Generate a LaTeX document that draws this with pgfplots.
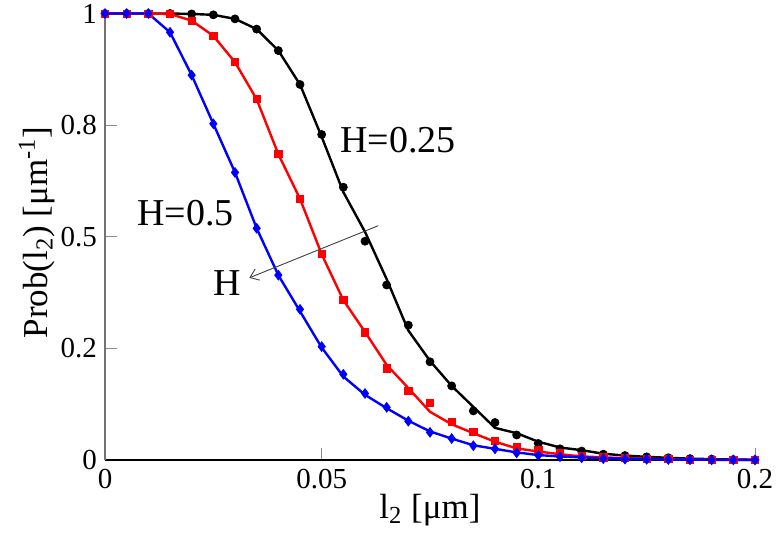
\documentclass[border=0pt]{standalone}
\usepackage{fontspec}
\setmainfont{Liberation Serif}
\usepackage{pgfplots}
\usepackage{pgfplotstable}
\pgfplotsset{compat=1.18}
\usetikzlibrary{arrows.meta}

\pgfplotstableread{
x bm bl rm rl km kl
0 1 1 1 1 1 1
0.005 1 1 1 1 1 1
0.010 1 1 1 1 1 1
0.015 0.958 0.958 0.999 0.999 1 1
0.020 0.862 0.862 0.984 0.984 0.999 0.999
0.025 0.753 0.753 0.950 0.950 0.997 0.997
0.030 0.644 0.644 0.891 0.891 0.988 0.988
0.035 0.519 0.519 0.808 0.808 0.965 0.965
0.040 0.414 0.414 0.685 0.685 0.917 0.917
0.045 0.3375 0.333 0.585 0.585 0.841 0.841
0.050 0.254 0.252 0.461 0.461 0.729 0.724
0.055 0.192 0.187 0.358 0.358 0.611 0.600
0.060 0.149 0.146 0.286 0.287 0.490 0.511
0.065 0.118 0.116 0.205 0.213 0.392 0.405
0.070 0.087 0.088 0.155 0.161 0.302 0.290
0.075 0.062 0.064 0.128 0.108 0.220 0.222
0.080 0.048 0.048 0.086 0.080 0.166 0.166
0.085 0.032 0.033 0.063 0.060 0.110 0.119
0.090 0.025 0.025 0.043 0.041 0.084 0.072
0.095 0.016 0.017 0.030 0.026 0.056 0.060
0.100 0.0105 0.011 0.022 0.019 0.037 0.041
0.105 0.0075 0.008 0.015 0.013 0.025 0.028
0.110 0.005 0.006 0.009 0.008 0.020 0.022
0.115 0.003 0.004 0.006 0.006 0.013 0.014
0.120 0.002 0.003 0.004 0.004 0.010 0.010
0.125 0.0015 0.002 0.003 0.003 0.007 0.007
0.130 0.001 0.001 0.002 0.002 0.005 0.005
0.135 0.0005 0.001 0.001 0.001 0.003 0.003
0.140 0.0003 0.0005 0.0007 0.0007 0.002 0.002
0.145 0.0002 0.0003 0.0004 0.0004 0.001 0.001
0.150 0.0001 0.0001 0.0002 0.0002 0.0005 0.0005
}\datatable

\begin{document}
\begin{tikzpicture}
\useasboundingbox (-52.5pt,-38.5pt) rectangle (336pt,230pt);
\begin{axis}[
  anchor=south west, at={(0,0)},
  scale only axis, width=325pt, height=223.25pt,
  xmin=0, xmax=0.15, ymin=0, ymax=1,
  clip=false,
  axis x line*=bottom, axis y line*=left,
  x axis line style={black, line width=0.6pt, -},
  y axis line style={black!55, line width=0.6pt, -},
  tick align=inside, major tick length=6pt,
  tick style={black!45, line width=0.5pt},
  xtick={0,0.05,0.1,0.15}, xticklabels={0,0.05,0.1,0.2},
  ytick={0,0.25,0.5,0.75,1}, yticklabels={0,0.2,0.5,0.8,1},
  /pgf/number format/assume math mode=true,
  tick label style={font=\fontsize{14.5}{16}\selectfont},
  xticklabel style={yshift=-1pt},
  yticklabel style={xshift=-0.5pt},
  xlabel={l\textsubscript{2} [μm]},
  ylabel={Prob(l\textsubscript{2}) [μm\textsuperscript{-1}]},
  label style={font=\fontsize{17.5}{20}\selectfont},
  xlabel style={at={(axis description cs:0.5,-0.112)}, anchor=center},
  ylabel style={at={(axis description cs:-0.105,0.51)}, anchor=center},
]
\addplot[black, line width=1.2pt, no marks] table[x=x,y=kl] {\datatable};
\addplot[black, only marks, mark=*, mark size=2pt] table[x=x,y=km] {\datatable};
\addplot[red, line width=1.2pt, no marks] table[x=x,y=rl] {\datatable};
\addplot[red, only marks, mark=square*, mark size=1.8pt] table[x=x,y=rm] {\datatable};
\addplot[blue, line width=1.2pt, no marks] table[x=x,y=bl] {\datatable};
\addplot[blue, only marks, mark=diamond*, mark size=2.4pt] table[x=x,y=bm] {\datatable};

\draw[black!75, line width=0.45pt, -{Straight Barb[length=4pt,width=6pt]}]
  (axis cs:0.06307,0.5248) -- (axis cs:0.0333,0.408);
\node[anchor=west, inner sep=0pt, font=\fontsize{19}{22}\selectfont] at (axis cs:0.0542,0.717) {H=0.25};
\node[anchor=west, inner sep=0pt, font=\fontsize{19}{22}\selectfont] at (axis cs:0.0074,0.553) {H=0.5};
\node[anchor=west, inner sep=0pt, font=\fontsize{19}{22}\selectfont] at (axis cs:0.0250,0.396) {H};
\end{axis}
\end{tikzpicture}
\end{document}
